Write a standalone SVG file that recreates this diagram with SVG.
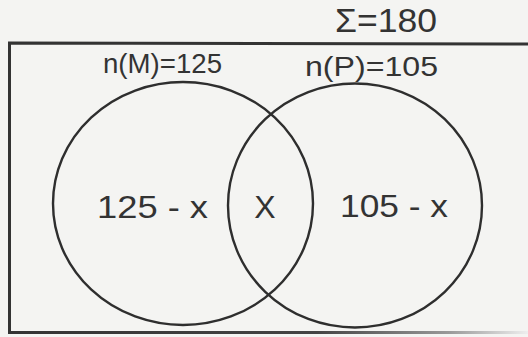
<svg xmlns="http://www.w3.org/2000/svg" width="528" height="337" viewBox="0 0 528 337">
  <defs>
    <style>
      .t { font-family: "Liberation Sans", Arial, sans-serif; fill: #333; }
      .set { fill: none; stroke: #2e2e2e; stroke-width: 2.4; }
      .frame { fill: none; stroke: #333; stroke-width: 3; }
    </style>
    <linearGradient id="fade" gradientUnits="userSpaceOnUse" x1="0" y1="0" x2="528" y2="0">
      <stop offset="0" stop-color="#333"/>
      <stop offset="0.6" stop-color="#444"/>
      <stop offset="0.85" stop-color="#999"/>
      <stop offset="1" stop-color="#eee"/>
    </linearGradient>
  </defs>
  <rect width="528" height="337" fill="#f4f4f2"/>
  <g id="universe">
    <path class="frame" d="M528,44 L9.5,43 L9.5,332.5"/>
    <line x1="8" y1="332.5" x2="528" y2="332.5" stroke="url(#fade)" stroke-width="3"/>
    <text class="t" x="335" y="32" font-size="34" textLength="102" lengthAdjust="spacingAndGlyphs">Σ=180</text>
  </g>
  <g id="setM">
    <ellipse class="set" cx="183" cy="203.5" rx="130" ry="121.5"/>
    <text class="t" x="103" y="73" font-size="27" textLength="119" lengthAdjust="spacingAndGlyphs">n(M)=125</text>
    <text class="t" x="97" y="218" font-size="32" textLength="111" lengthAdjust="spacingAndGlyphs">125 - x</text>
  </g>
  <g id="setP">
    <ellipse class="set" cx="355" cy="205.5" rx="127" ry="122"/>
    <text class="t" x="305" y="76" font-size="27" textLength="133" lengthAdjust="spacingAndGlyphs">n(P)=105</text>
    <text class="t" x="340" y="217" font-size="32" textLength="108" lengthAdjust="spacingAndGlyphs">105 - x</text>
  </g>
  <g id="intersection">
    <text class="t" x="265" y="218" font-size="32" text-anchor="middle">X</text>
  </g>
  <g id="connectors"></g>
</svg>
